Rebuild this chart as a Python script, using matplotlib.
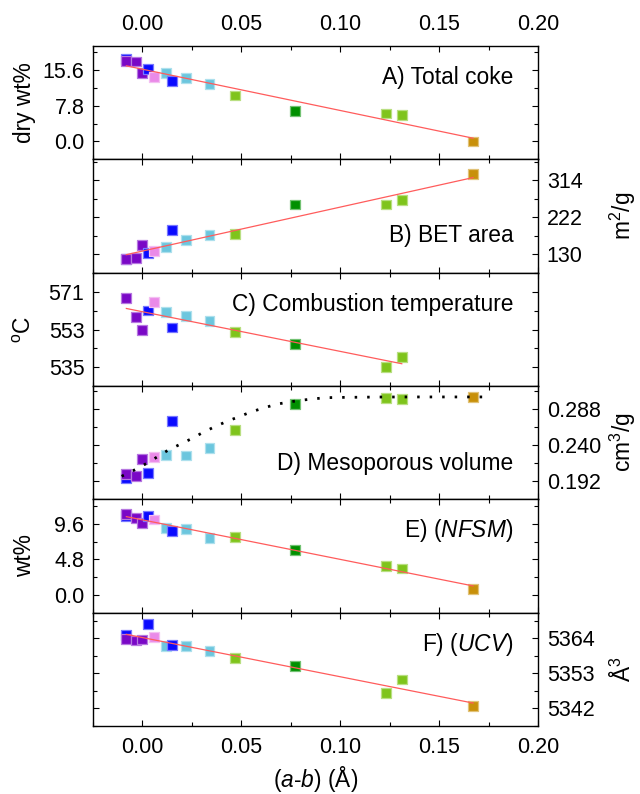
import numpy as np
import matplotlib
matplotlib.use('Agg')
import matplotlib.pyplot as plt
from matplotlib.colors import to_rgb

plt.rcParams['font.family'] = ['Liberation Sans', 'DejaVu Sans']
plt.rcParams['mathtext.fontset'] = 'custom'
plt.rcParams['mathtext.rm'] = 'Liberation Sans'
plt.rcParams['mathtext.it'] = 'Liberation Sans:italic'

# (a-b) of each sample and its colour group
a_minus_b = [-0.008, -0.008, -0.003, 0.000, 0.003, 0.006, 0.012, 0.015,
             0.022, 0.034, 0.047, 0.077, 0.123, 0.131, 0.167]
point_color = ['#0a0aff', '#7a08c6', '#7a08c6', '#7a08c6', '#0a0aff', '#ea8ae8',
               '#6cc6de', '#0a0aff', '#6cc6de', '#6cc6de', '#7fc41c', '#009000',
               '#7fc41c', '#7fc41c', '#c8900a']

nan = np.nan
total_coke = [18.0, 17.5, 17.4, 14.9, 15.8, 14.0, 14.9, 13.2, 13.8, 12.6,
              10.0, 6.6, 6.1, 5.7, 0.0]
bet_area = [117, 118, 120.3, 152.7, 132.4, 137.3, 148.6, 190.5, 164.8, 177,
            179.4, 253.5, 253.5, 265.6, 329.5]
comb_temp = [nan, 568.1, 559.0, 552.9, 562.1, 566.1, 561.3, 554.0, 559.4, 557.2,
             552.0, 546.0, 535.0, 539.8, nan]
meso_vol = [0.1963, 0.2021, 0.1996, 0.2223, 0.2026, 0.2245, 0.2270, 0.2728,
            0.2266, 0.2362, 0.2602, 0.2948, 0.3037, 0.3020, 0.3049]
nfsm = [10.7, 10.95, 10.44, 9.77, 10.66, 10.19, 9.04, 8.66, 8.87, 7.73,
        7.77, 6.11, 3.87, 3.57, 0.81]
ucv = [5365.0, 5363.8, 5363.3, 5363.6, 5368.5, 5364.4, 5361.6, 5361.8, 5361.5,
       5360.0, 5357.7, 5355.4, 5346.8, 5351.1, 5342.9]

# dotted trend of the mesoporous volume
meso_trend_x = [-0.0104, -0.0042, 0.0017, 0.0075, 0.0129, 0.0184, 0.0248, 0.0307,
                0.0366, 0.0428, 0.049, 0.055, 0.0612, 0.0676, 0.0747, 0.0806,
                0.0876, 0.094, 0.1007, 0.12, 0.14, 0.16, 0.1755]
meso_trend_y = [0.1988, 0.2068, 0.2152, 0.2245, 0.2333, 0.2405, 0.2488, 0.2573,
                0.2649, 0.2721, 0.2784, 0.2847, 0.2898, 0.2948, 0.2981, 0.3003,
                0.3024, 0.3037, 0.3040, 0.3045, 0.3046, 0.3046, 0.3046]

x_ticks = [0.00, 0.05, 0.10, 0.15, 0.20]
x_tick_labels = ['0.00', '0.05', '0.10', '0.15', '0.20']

panels = [
    dict(y=total_coke, title='A) Total coke', ylabel='dry wt%', side='left',
         ticks=[0.0, 7.8, 15.6], labels=['0.0', '7.8', '15.6'], minor=3.9,
         ylim=(-2.6, 20.8), fit='line', ty=0.72),
    dict(y=bet_area, title='B) BET area', ylabel='m$^2$/g', side='right',
         ticks=[130, 222, 314], labels=['130', '222', '314'], minor=46,
         ylim=(91.3, 365.8), fit='line', ty=0.332),
    dict(y=comb_temp, title='C) Combustion temperature', ylabel='$^{\\rm o}$C', side='left',
         ticks=[535, 553, 571], labels=['535', '553', '571'], minor=9,
         ylim=(526.1, 580.2), fit='line', ty=0.715),
    dict(y=meso_vol, title='D) Mesoporous volume', ylabel='cm$^3$/g', side='right',
         ticks=[0.192, 0.240, 0.288], labels=['0.192', '0.240', '0.288'], minor=0.024,
         ylim=(0.1761, 0.3192), fit='trend', ty=0.318),
    dict(y=nfsm, title='E) ($\\mathit{NFSM}$)', ylabel='wt%', side='left',
         ticks=[0.0, 4.8, 9.6], labels=['0.0', '4.8', '9.6'], minor=2.4,
         ylim=(-1.53, 12.91), fit='line', ty=0.729),
    dict(y=ucv, title='F) ($\\mathit{UCV}$)', ylabel='Å$^3$', side='right',
         ticks=[5342, 5353, 5364], labels=['5342', '5353', '5364'], minor=5.5,
         ylim=(5337.9, 5372.0), fit='line', ty=0.715),
]


def tint(c, f=0.45):
    r, g, b = to_rgb(c)
    return (r + (1 - r) * f, g + (1 - g) * f, b + (1 - b) * f)


def draw_panel(ax, p):
    x = np.array(a_minus_b)
    y = np.array(p['y'], dtype=float)
    ok = ~np.isnan(y)
    ax.scatter(x[ok], y[ok], s=50, marker='s',
               c=[point_color[i] for i in range(len(x)) if ok[i]],
               edgecolors=[tint(point_color[i]) for i in range(len(x)) if ok[i]],
               linewidths=0.9, zorder=2)
    if p['fit'] == 'line':
        # linear fit over the plotted points
        k, b = np.polyfit(x[ok], y[ok], 1)
        xx = np.array([x[ok].min(), x[ok].max()])
        ax.plot(xx, k * xx + b, color='#ff5c5c', lw=0.9, zorder=3)
    else:
        ax.plot(meso_trend_x, meso_trend_y, color='black', lw=2.0,
                ls=(0, (0.9, 3.6)), zorder=3)

    ax.set_ylim(p['ylim'])
    ax.set_yticks(p['ticks'], p['labels'])
    lo, hi = p['ylim']
    start = p['ticks'][0] - p['minor'] * np.ceil((p['ticks'][0] - lo) / p['minor'])
    ax.set_yticks(np.arange(start, hi, p['minor']), minor=True)

    ax.text(0.9435, p['ty'], p['title'], ha='right', va='center',
            transform=ax.transAxes, fontsize=16.4)
    lx = -0.152 if p['side'] == 'left' else 1.19
    ax.text(lx, 0.5, p['ylabel'], rotation=90, ha='center', va='center',
            transform=ax.transAxes, fontsize=16.4)

    ax.tick_params(which='both', direction='in', top=True, bottom=True,
                   left=True, right=True, labelbottom=False, labeltop=False,
                   labelleft=(p['side'] == 'left'), labelright=(p['side'] == 'right'),
                   labelsize=15.5, width=0.8)
    ax.tick_params(which='major', length=4.3)
    ax.tick_params(which='minor', length=2.6)
    ax.tick_params(axis='x', pad=8)
    ax.tick_params(axis='y', pad=6)
    for s in ax.spines.values():
        s.set_linewidth(1.0)


def main():
    fig, axes = plt.subplots(6, 1, figsize=(6.4, 7.94), dpi=100, sharex=True)
    plt.subplots_adjust(left=0.1448, right=0.8414, top=0.9421, bottom=0.0856, hspace=0)
    for ax, p in zip(axes, panels):
        draw_panel(ax, p)
    axes[0].set_xlim(-0.025, 0.20)
    axes[0].set_xticks(x_ticks, x_tick_labels)
    axes[0].set_xticks(np.arange(-0.025, 0.2001, 0.025), minor=True)
    axes[0].tick_params(labeltop=True)
    axes[-1].tick_params(labelbottom=True)
    axes[-1].text(0.5, -0.465, '($\\mathit{a}$-$\\mathit{b}$) (Å)', ha='center', va='center',
                  transform=axes[-1].transAxes, fontsize=16.4)
    fig.savefig('out.png', dpi=100)


if __name__ == "__main__":
    main()
